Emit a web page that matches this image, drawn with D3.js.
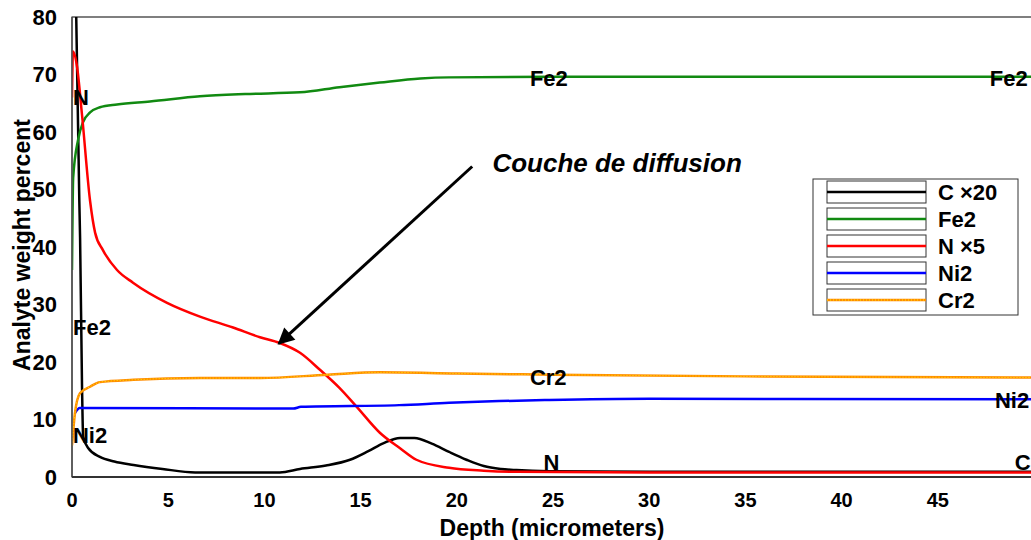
<!DOCTYPE html>
<html>
<head>
<meta charset="utf-8">
<script src="https://cdn.jsdelivr.net/npm/d3@7"></script>
<style>
  body { margin: 0; background: #fff; }
  text { font-family: 'Liberation Sans', Arial, sans-serif; font-weight: bold; }
</style>
</head>
<body>
<div id="graf"></div>
<script>
// depth (micrometers) vs analyte weight percent
const cData = [[0.2, 84], [0.38, 48], [0.42, 41.6], [0.52, 16], [0.58, 7], [0.85, 5], [1.45, 3.5], [2.2, 2.7], [3.2, 2.1], [4.7, 1.4], [6.4, 0.8], [10.8, 0.8], [11.85, 1.4], [13.2, 2.0], [14.45, 3.0], [15.4, 4.5], [16.2, 5.9], [17.05, 6.8], [17.8, 6.8], [18.7, 5.8], [19.6, 4.35], [20.5, 3.0], [21.4, 1.9], [22.3, 1.4], [23.1, 1.2], [24.8, 1.0], [30, 0.9], [50, 0.9]]
const fe2Data = [[0, 36], [0.06, 52], [0.32, 58.7], [0.57, 61.7], [0.94, 63.4], [1.45, 64.3], [2.34, 64.8], [4.05, 65.3], [6.65, 66.2], [9, 66.6], [11.85, 66.9], [13.9, 67.8], [16, 68.6], [18.1, 69.3], [19.6, 69.5], [25, 69.6], [35, 69.6], [50, 69.6]]
const nData = [[0, 66], [0.05, 74], [0.26, 71.4], [0.52, 63], [0.94, 48], [1.2, 42.5], [1.6, 39.5], [2.34, 36], [3.17, 33.8], [4.94, 30.3], [6.65, 27.9], [8.37, 26], [9.77, 24.3], [10.8, 23.3], [11.85, 21.6], [12.9, 18.6], [13.9, 15.5], [14.8, 12.2], [16.0, 7.7], [17.05, 5], [17.9, 3], [19.6, 1.6], [21.4, 1.1], [23.1, 0.9], [30, 0.8], [50, 0.8]]
const ni2Data = [[0.15, 11.1], [0.4, 12.0], [11.5, 11.9], [11.9, 12.2], [17, 12.5], [19.6, 12.9], [22.2, 13.2], [24.8, 13.4], [30, 13.6], [50, 13.5]]
const cr2Data = [[0, 5.5], [0.15, 11], [0.42, 14.6], [0.94, 15.7], [1.45, 16.5], [3.2, 16.9], [6.65, 17.2], [9.8, 17.2], [13.3, 17.8], [16, 18.2], [20, 18.0], [25, 17.8], [35, 17.5], [50, 17.3]]

const seriesNames = ['C \u00d720', 'Fe2', 'N \u00d75', 'Ni2', 'Cr2']
const xTicks = [0, 5, 10, 15, 20, 25, 30, 35, 40, 45]
const yTicks = [0, 10, 20, 30, 40, 50, 60, 70, 80]

// inline series labels: [text, depth, value]
const lineLabels = [
  ['N', 0.05, 66.1], ['Fe2', 0.05, 26.1], ['Ni2', 0.05, 7.3],
  ['Fe2', 23.8, 69.4], ['Cr2', 23.8, 17.4], ['N', 24.5, 2.6],
  ['Fe2', 47.7, 69.4], ['Ni2', 47.97, 13.4], ['C', 49.0, 2.6]
]

const series = [
  { name: seriesNames[0], data: cData, color: '#000000' },
  { name: seriesNames[1], data: fe2Data, color: '#118a11' },
  { name: seriesNames[2], data: nData, color: '#ff0000' },
  { name: seriesNames[3], data: ni2Data, color: '#0000ff' },
  { name: seriesNames[4], data: cr2Data, color: '#ff8c00', dots: '#ffee00' }
]

const anchoTotal = 1031
const altoTotal = 540
const margin = { top: 17, left: 72 }
const ancho = 962
const alto = 460

const svg = d3.select('#graf').append('svg')
  .attr('width', anchoTotal)
  .attr('height', altoTotal)

const x = d3.scaleLinear().domain([0, 50]).range([margin.left, margin.left + ancho])
const y = d3.scaleLinear().domain([0, 80]).range([margin.top + alto, margin.top])

svg.append('clipPath').attr('id', 'clip')
  .append('rect')
  .attr('x', margin.left).attr('y', margin.top)
  .attr('width', ancho).attr('height', alto)

// frame
svg.append('rect')
  .attr('x', margin.left).attr('y', margin.top)
  .attr('width', ancho).attr('height', alto)
  .attr('fill', 'none').attr('stroke', '#000').attr('stroke-width', 1)

const line = d3.line()
  .x(d => x(d[0]))
  .y(d => y(d[1]))
  .curve(d3.curveMonotoneX)

const lines = svg.append('g').attr('clip-path', 'url(#clip)')

series.forEach(s => {
  lines.append('path')
    .attr('d', line(s.data))
    .attr('fill', 'none')
    .attr('stroke', s.color)
    .attr('stroke-width', 2.5)
  if (s.dots) {
    lines.append('path')
      .attr('d', line(s.data))
      .attr('fill', 'none')
      .attr('stroke', s.dots)
      .attr('stroke-width', 1)
      .attr('stroke-dasharray', '1,2')
  }
})

// axes lines
svg.append('line')
  .attr('x1', margin.left).attr('x2', margin.left)
  .attr('y1', margin.top).attr('y2', margin.top + alto)
  .attr('stroke', '#555').attr('stroke-width', 1.5)
svg.append('line')
  .attr('x1', margin.left).attr('x2', anchoTotal)
  .attr('y1', margin.top + alto).attr('y2', margin.top + alto)
  .attr('stroke', '#333').attr('stroke-width', 2)

// ticks
svg.append('g').selectAll('text').data(yTicks).join('text')
  .attr('x', 57)
  .attr('y', d => y(d))
  .attr('dy', '0.36em')
  .attr('text-anchor', 'end')
  .attr('font-size', 22)
  .text(d => d)

svg.append('g').selectAll('text').data(xTicks).join('text')
  .attr('x', d => x(d))
  .attr('y', 500)
  .attr('dy', '0.36em')
  .attr('text-anchor', 'middle')
  .attr('font-size', 20)
  .text(d => d)

svg.append('text')
  .attr('x', 552).attr('y', 536)
  .attr('text-anchor', 'middle')
  .attr('font-size', 23)
  .text('Depth (micrometers)')

svg.append('text')
  .attr('transform', 'translate(30, 245) rotate(-90)')
  .attr('text-anchor', 'middle')
  .attr('font-size', 23)
  .text('Analyte weight percent')

// inline labels
svg.append('g').selectAll('text').data(lineLabels).join('text')
  .attr('x', d => x(d[1]))
  .attr('y', d => y(d[2]))
  .attr('dy', '0.36em')
  .attr('font-size', 22)
  .attr('fill', '#000')
  .text(d => d[0])

// annotation
const tip = [x(10.75), y(23.2)]
const start = [x(20.8), y(54)]
svg.append('defs').append('marker')
  .attr('id', 'arrow')
  .attr('viewBox', '0 0 10 10')
  .attr('refX', 9).attr('refY', 5)
  .attr('markerWidth', 6.5).attr('markerHeight', 5.5)
  .attr('markerUnits', 'strokeWidth')
  .attr('orient', 'auto')
  .append('path')
  .attr('d', 'M0,0 L10,5 L0,10 z')
  .attr('fill', '#000')

svg.append('line')
  .attr('x1', start[0]).attr('y1', start[1])
  .attr('x2', tip[0]).attr('y2', tip[1])
  .attr('stroke', '#000').attr('stroke-width', 3)
  .attr('marker-end', 'url(#arrow)')

svg.append('text')
  .attr('x', x(21.85)).attr('y', y(54.7))
  .attr('dy', '0.36em')
  .attr('font-size', 26)
  .attr('font-style', 'italic')
  .text('Couche de diffusion')

// legend
const legend = svg.append('g')
legend.append('rect')
  .attr('x', 813).attr('y', 179)
  .attr('width', 205).attr('height', 136)
  .attr('fill', '#fff').attr('stroke', '#333').attr('stroke-width', 1)

const rows = legend.selectAll('g.row').data(series).join('g')
  .attr('class', 'row')
  .attr('transform', (d, i) => `translate(0, ${192 + i * 27})`)

rows.append('rect')
  .attr('x', 827).attr('y', -11)
  .attr('width', 99).attr('height', 22)
  .attr('fill', '#fff').attr('stroke', '#333').attr('stroke-width', 1)
rows.append('line')
  .attr('x1', 827).attr('x2', 926)
  .attr('stroke', d => d.color).attr('stroke-width', 2.5)
rows.filter(d => d.dots).append('line')
  .attr('x1', 827).attr('x2', 926)
  .attr('stroke', d => d.dots).attr('stroke-width', 1)
  .attr('stroke-dasharray', '1,2')
rows.append('text')
  .attr('x', 938)
  .attr('dy', '0.36em')
  .attr('font-size', 22)
  .text(d => d.name)
</script>
</body>
</html>
